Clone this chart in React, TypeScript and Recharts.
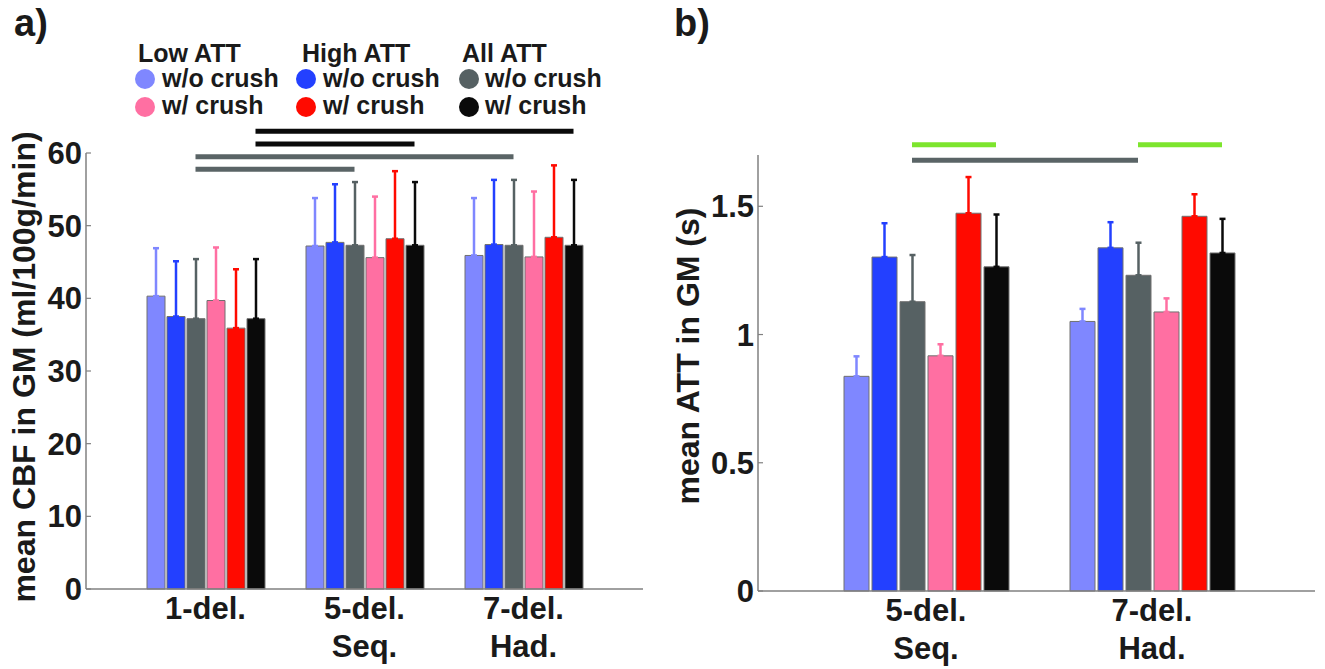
import React from 'react';
import { BarChart, Bar, XAxis, YAxis, ErrorBar, ReferenceLine } from 'recharts';

const FONT = '"Liberation Sans", Arial, Helvetica, sans-serif';
const TXT = '#1a1a1a';
const AXIS = '#808080';

// series (order of bars inside each group)
const seriesKeys = ['lowNo', 'highNo', 'allNo', 'lowW', 'highW', 'allW'];
const seriesColors = ['#7F87FF', '#2340FF', '#566163', '#FF6FA2', '#FF0A00', '#0A0A0A'];
const groupNames = ['Low ATT', 'High ATT', 'All ATT'];
const crushLabels = ['w/o crush', 'w/ crush'];

// ---------- panel a: mean CBF ----------
const catsA = ['1-del.', '5-del.', '7-del.'];
const subA = ['', 'Seq.', 'Had.'];
const lowNoA = [40.3, 47.2, 45.9];
const highNoA = [37.5, 47.7, 47.4];
const allNoA = [37.2, 47.3, 47.3];
const lowWA = [39.7, 45.6, 45.7];
const highWA = [35.9, 48.2, 48.4];
const allWA = [37.2, 47.3, 47.3];
const lowNoErrA = [6.6, 6.6, 7.9];
const highNoErrA = [7.6, 8.0, 8.9];
const allNoErrA = [8.2, 8.7, 9.0];
const lowWErrA = [7.3, 8.4, 9.0];
const highWErrA = [8.1, 9.3, 9.9];
const allWErrA = [8.2, 8.7, 9.0];
const ticksA = [0, 10, 20, 30, 40, 50, 60];
// significance bars: [fromCat, fromSeries, toCat, toSeries, level, color]
const sigA: [number, number, number, number, number, string][] = [
  [0, 5, 2, 5, 63.0, '#0A0A0A'],
  [0, 5, 1, 5, 61.25, '#0A0A0A'],
  [0, 2, 2, 2, 59.5, '#5A6466'],
  [0, 2, 1, 2, 57.75, '#5A6466'],
];

// ---------- panel b: mean ATT ----------
const catsB = ['5-del.', '7-del.'];
const subB = ['Seq.', 'Had.'];
const lowNoB = [0.837, 1.051];
const highNoB = [1.302, 1.338];
const allNoB = [1.128, 1.231];
const lowWB = [0.917, 1.088];
const highWB = [1.473, 1.461];
const allWB = [1.264, 1.318];
const lowNoErrB = [0.078, 0.049];
const highNoErrB = [0.132, 0.1];
const allNoErrB = [0.182, 0.127];
const lowWErrB = [0.045, 0.053];
const highWErrB = [0.141, 0.086];
const allWErrB = [0.204, 0.133];
const ticksB = [0, 0.5, 1, 1.5];
const sigB: [number, number, number, number, number, string][] = [
  [0, 2, 0, 5, 1.74, '#7DE52D'],
  [0, 2, 1, 2, 1.68, '#5A6466'],
  [1, 2, 1, 5, 1.74, '#7DE52D'],
];

function buildRows(cats: string[], means: number[][], errs: number[][]) {
  return cats.map((c, i) => {
    const row: any = { cat: c, idx: i };
    seriesKeys.forEach((k, j) => {
      row[k] = means[j][i];
      row[k + 'Err'] = [0, errs[j][i]];
    });
    return row;
  });
}

const rowsA = buildRows(
  catsA,
  [lowNoA, highNoA, allNoA, lowWA, highWA, allWA],
  [lowNoErrA, highNoErrA, allNoErrA, lowWErrA, highWErrA, allWErrA]
);
const rowsB = buildRows(
  catsB,
  [lowNoB, highNoB, allNoB, lowWB, highWB, allWB],
  [lowNoErrB, highNoErrB, allNoErrB, lowWErrB, highWErrB, allWErrB]
);

const XTick = (props: any) => {
  const { x, y, payload, cats, subs } = props;
  const idx = cats.indexOf(payload.value);
  const sub = idx >= 0 ? subs[idx] : '';
  const common = { textAnchor: 'middle' as const, fontSize: 31, fontWeight: 'bold', fill: TXT, fontFamily: FONT };
  return (
    <g>
      <text x={x} y={y + 30} {...common}>{payload.value}</text>
      {sub ? <text x={x} y={y + 68} {...common}>{sub}</text> : null}
    </g>
  );
};

type PanelProps = {
  left: number;
  width: number;
  rows: any[];
  cats: string[];
  subs: string[];
  yDomain: [number, number];
  yTicks: number[];
  ylabel: string;
  labelCx: number;
  labelShift: number;
  barSize: number;
  barGap: number;
  yAxisWidth: number;
  marginTop: number;
  marginRight: number;
  xAxisHeight: number;
  padL: number;
  padR: number;
  sig: [number, number, number, number, number, string][];
};

function Panel(p: PanelProps) {
  const H = 669;
  const n = p.cats.length;
  const plotW = p.width - p.yAxisWidth - p.marginRight;
  const band = (plotW - p.padL - p.padR) / n;
  const nS = seriesKeys.length;
  const total = nS * p.barSize + (nS - 1) * p.barGap;
  const unitX = (cat: number, s: number) =>
    cat + (-total / 2 + s * (p.barSize + p.barGap) + p.barSize / 2) / band;

  return (
    <div style={{ position: 'absolute', left: p.left, top: 0 }}>
      <BarChart
        width={p.width}
        height={H}
        data={p.rows}
        margin={{ top: p.marginTop, right: p.marginRight, bottom: 0, left: 0 }}
        barSize={p.barSize}
        barGap={p.barGap}
        style={{ fontFamily: FONT }}
      >
        <XAxis
          xAxisId="cat"
          dataKey="cat"
          type="category"
          interval={0}
          padding={{ left: p.padL, right: p.padR }}
          height={p.xAxisHeight}
          tickLine={false}
          tickSize={0}
          tickMargin={0}
          axisLine={{ stroke: AXIS, strokeWidth: 1.5 }}
          tick={<XTick cats={p.cats} subs={p.subs} />}
        />
        <XAxis
          xAxisId="num"
          dataKey="idx"
          type="number"
          domain={['dataMin', 'dataMax']}
          padding={{ left: p.padL + band / 2, right: p.padR + band / 2 }}
          hide
        />
        <YAxis
          type="number"
          domain={p.yDomain}
          ticks={p.yTicks}
          interval={0}
          width={p.yAxisWidth}
          tickSize={-5}
          tickMargin={9}
          tickLine={{ stroke: AXIS, strokeWidth: 1.2 }}
          axisLine={{ stroke: AXIS, strokeWidth: 1.5 }}
          tick={{ fontSize: 31, fontWeight: 'bold', fill: TXT, fontFamily: FONT }}
          label={(lp: any) => {
            const vb = lp.viewBox || { y: p.marginTop, height: 436 };
            const cy = vb.y + vb.height / 2 + p.labelShift;
            return (
              <text
                x={p.labelCx}
                y={cy}
                dy="0.32em"
                transform={`rotate(-90, ${p.labelCx}, ${cy})`}
                textAnchor="middle"
                fontSize={32}
                fontWeight="bold"
                fill={TXT}
                fontFamily={FONT}
              >
                {p.ylabel}
              </text>
            );
          }}
        />
        {seriesKeys.map((k, j) => (
          <Bar
            key={k}
            xAxisId="cat"
            dataKey={k}
            fill={seriesColors[j]}
            stroke="#707070"
            strokeWidth={1}
            isAnimationActive={false}
          >
            <ErrorBar
              dataKey={k + 'Err'}
              direction="y"
              width={3}
              stroke={seriesColors[j]}
              strokeWidth={2.5}
              isAnimationActive={false}
            />
          </Bar>
        ))}
        {p.sig.map((s, i) => (
          <ReferenceLine
            key={'sig' + i}
            xAxisId="num"
            ifOverflow="visible"
            stroke={s[5]}
            strokeWidth={5}
            segment={[
              { x: unitX(s[0], s[1]), y: s[4] },
              { x: unitX(s[2], s[3]), y: s[4] },
            ]}
          />
        ))}
      </BarChart>
    </div>
  );
}

function Overlay() {
  const colX = [145, 306, 469];
  const headX = [138, 302, 462];
  const textX = [162, 323, 485];
  const t = { fontFamily: FONT, fontWeight: 'bold' as const, fill: TXT };
  return (
    <svg
      width={1325}
      height={669}
      style={{ position: 'absolute', left: 0, top: 0, pointerEvents: 'none' }}
    >
      <text x={14} y={36} fontSize={38} {...t}>a)</text>
      <text x={674} y={36} fontSize={38} {...t}>b)</text>
      {groupNames.map((g, j) => (
        <g key={g}>
          <text x={headX[j]} y={62} fontSize={25} {...t}>{g}</text>
          {crushLabels.map((c, r) => (
            <g key={c}>
              <circle cx={colX[j]} cy={79 + r * 28} r={10} fill={seriesColors[j + r * 3]} />
              <text x={textX[j]} y={87 + r * 27} fontSize={25} {...t}>{c}</text>
            </g>
          ))}
        </g>
      ))}
    </svg>
  );
}

export default function App() {
  return (
    <div
      style={{
        position: 'absolute',
        left: 0,
        top: 0,
        width: 1325,
        height: 669,
        background: '#ffffff',
        fontFamily: FONT,
        overflow: 'hidden',
      }}
    >
      <Panel
        left={0}
        width={660}
        rows={rowsA}
        cats={catsA}
        subs={subA}
        yDomain={[0, 60]}
        yTicks={ticksA}
        ylabel="mean CBF in GM (ml/100g/min)"
        labelCx={25}
        labelShift={-4}
        barSize={18}
        barGap={2}
        yAxisWidth={86}
        marginTop={153}
        marginRight={17}
        xAxisHeight={80}
        padL={40}
        padR={40}
        sig={sigA}
      />
      <Panel
        left={660}
        width={665}
        rows={rowsB}
        cats={catsB}
        subs={subB}
        yDomain={[0, 1.7]}
        yTicks={ticksB}
        ylabel="mean ATT in GM (s)"
        labelCx={29}
        labelShift={-17}
        barSize={25}
        barGap={3}
        yAxisWidth={98}
        marginTop={155}
        marginRight={10}
        xAxisHeight={78}
        padL={55}
        padR={50}
        sig={sigB}
      />
      <Overlay />
    </div>
  );
}
